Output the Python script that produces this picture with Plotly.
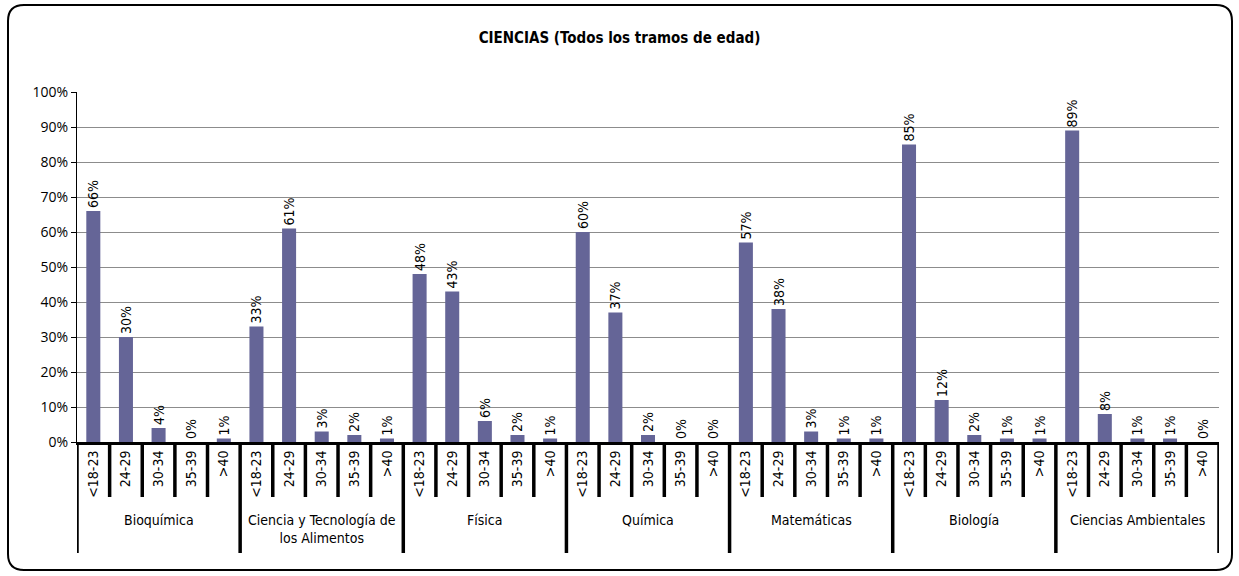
import plotly.graph_objects as go

# ── Data ──────────────────────────────────────────────────────────────────────
GROUPS = [
    "Bioquímica",
    "Ciencia y Tecnología de<br>los Alimentos",
    "Física",
    "Química",
    "Matemáticas",
    "Biología",
    "Ciencias Ambientales",
]
AGES = ["<18-23", "24-29", "30-34", "35-39", ">40"]

bioquimica   = [66, 30, 4, 0, 1]
alimentos    = [33, 61, 3, 2, 1]
fisica       = [48, 43, 6, 2, 1]
quimica      = [60, 37, 2, 0, 0]
matematicas  = [57, 38, 3, 1, 1]
biologia     = [85, 12, 2, 1, 1]
ambientales  = [89, 8, 1, 1, 0]

SERIES = [bioquimica, alimentos, fisica, quimica, matematicas, biologia, ambientales]

BAR = "#656597"
NARROW = "DejaVu Sans Condensed, Liberation Sans, Arial, sans-serif"

# ── Geometry helpers (pixels -> paper) ────────────────────────────────────────
W, H = 1239, 576
ML, MR, MT, MB = 77, 20, 92, 134
PW, PH = W - ML - MR, H - MT - MB


def px(x):
    return (x - ML) / PW


def py(y):
    return (H - MB - y) / PH


values = [v for s in SERIES for v in s]
xs = list(range(len(values)))
ticktext = AGES * len(GROUPS)

fig = go.Figure(go.Bar(
    x=xs,
    y=values,
    width=0.43,
    marker=dict(color=BAR, line=dict(width=0)),
    text=[f"{v}%" for v in values],
    textposition="outside",
    textangle=-90,
    constraintext="none",
    textfont=dict(family=NARROW, size=14, color="#000000"),
    cliponaxis=False,
    hovertemplate="%{y}%<extra></extra>",
))

shapes = []
n = len(AGES)
for i in range(len(values) + 1):
    group_edge = i % n == 0
    shapes.append(dict(
        type="line", xref="x", yref="paper",
        x0=i - 0.5, x1=i - 0.5,
        y0=0, y1=py(553 if group_edge else 497),
        line=dict(color="#000000", width=3.5),
    ))

# rounded border
x0, x1, y0, y1 = px(8), px(1232), py(570), py(5)
rx, ry = 16 / PW, 16 / PH
path = (f"M {x0+rx},{y1} L {x1-rx},{y1} Q {x1},{y1} {x1},{y1-ry} "
        f"L {x1},{y0+ry} Q {x1},{y0} {x1-rx},{y0} "
        f"L {x0+rx},{y0} Q {x0},{y0} {x0},{y0+ry} "
        f"L {x0},{y1-ry} Q {x0},{y1} {x0+rx},{y1} Z")
shapes.append(dict(type="path", xref="paper", yref="paper", path=path,
                   line=dict(color="#000000", width=2)))

annotations = []
for g, name in enumerate(GROUPS):
    annotations.append(dict(
        x=g * n + (n - 1) / 2, y=py(510), xref="x", yref="paper",
        text=name, showarrow=False, yanchor="top", xanchor="center",
        font=dict(family=NARROW, size=14, color="#000000"),
    ))

fig.update_layout(
    width=W, height=H,
    margin=dict(l=ML, r=MR, t=MT, b=MB),
    paper_bgcolor="#ffffff", plot_bgcolor="#ffffff",
    showlegend=False,
    title=dict(text="<b>CIENCIAS (Todos los tramos de edad)</b>",
               x=0.5, xref="container", xanchor="center", y=1 - 38 / H, yanchor="middle",
               font=dict(family=NARROW, size=15, color="#000000")),
    xaxis=dict(
        range=[-0.5, len(values) - 0.5],
        tickmode="array", tickvals=xs, ticktext=ticktext,
        tickangle=-90, ticks="", showgrid=False, zeroline=False,
        showline=True, linecolor="#000000", linewidth=3,
        tickfont=dict(family=NARROW, size=14, color="#000000"),
    ),
    yaxis=dict(
        range=[0, 100], dtick=10, ticksuffix="%",
        showgrid=True, gridcolor="#8c8c8c", gridwidth=1,
        zeroline=False, showline=True, linecolor="#000000", linewidth=1,
        ticks="outside", ticklen=5, tickcolor="#000000",
        tickfont=dict(family="Open Sans, Noto Sans, sans-serif", size=14, color="#000000"),
    ),
    shapes=shapes,
    annotations=annotations,
)

fig.write_html("out.html", config={"displayModeBar": False},
               post_script="document.body.style.margin='0px';")
